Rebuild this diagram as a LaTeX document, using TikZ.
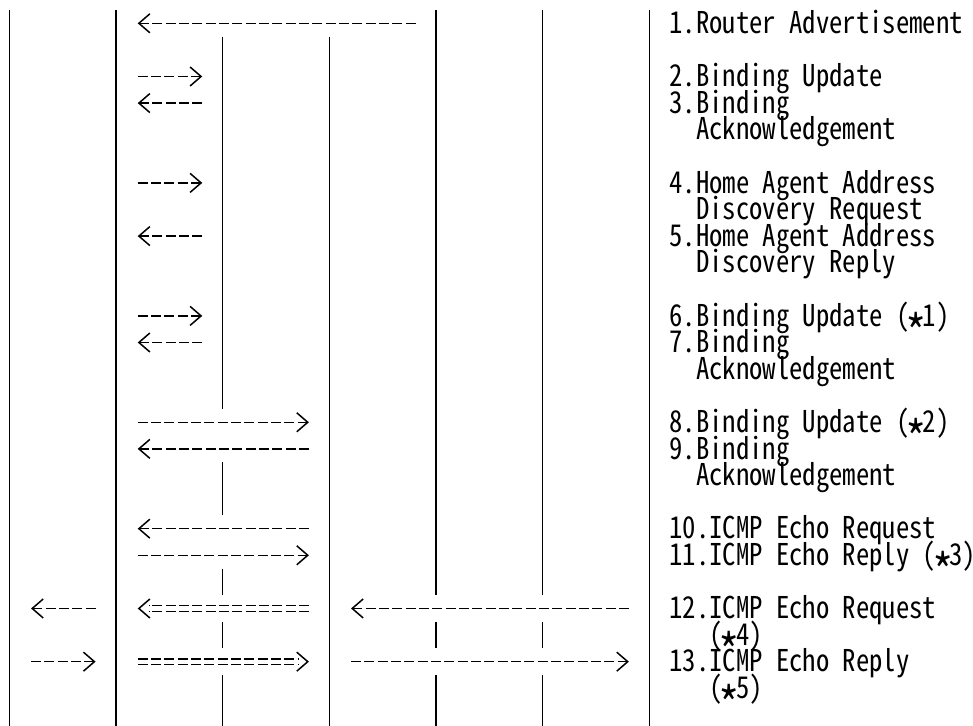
\documentclass[tikz,border=0pt]{standalone}
\usepackage{fontspec}
\usepackage{tikz}
\usetikzlibrary{arrows.meta}
\newfontfamily\gothic[RawFeature=+hwid,FakeStretch=0.889]{Noto Sans CJK JP}
\newcommand\lowstar{\makebox[13.33pt][c]{\raisebox{-0.8em}{\scalebox{1.6}{*}}}}
\newcommand\lblfont{\gothic\fontsize{30}{26.6}\selectfont\setlength\lineskiplimit{-30pt}}
\tikzset{
  life/.style={line width=1.3pt},
  msg/.style={line width=1.5pt, dash pattern=on 10pt off 3.33pt,
    -{Straight Barb[length=11pt,width=19pt]}},
  dblmsg/.style={line width=1.3pt, dash pattern=on 10pt off 3.33pt,
    double, double distance=4.2pt, shorten >=11pt},
  tiponly/.style={msg, dash pattern=on 0pt off 2000pt},
  lbl/.style={anchor=base west, inner sep=0pt, align=left, font=\lblfont}
}

\begin{document}
\begin{tikzpicture}[x=13.333pt, y=-26.6pt]
  \useasboundingbox (0,0) rectangle (72.98,27.29);
  \foreach \c/\a/\b in {0/0/26, 8/0/26, 16/1/14, 16/17/18, 16/21/21, 16/23/23,
      16/25/26, 24/1/26, 32/0/21, 32/23/23, 32/25/26, 40/0/21, 40/23/23,
      40/25/26, 48/0/26} {
    \draw[life] (\c+0.7,\a+0.376) -- (\c+0.7,\b+1.376);
  }
  \foreach \r/\p/\q/\k [count=\i] in {0/31.17/10.33/msg, 2/10.33/15.17/msg,
      3/15.17/10.33/msg, 6/10.33/15.17/msg, 8/15.17/10.33/msg,
      11/10.33/15.17/msg, 12/15.17/10.33/msg, 15/10.33/23.17/msg,
      16/23.17/10.33/msg, 19/23.17/10.33/msg, 20/10.33/23.17/msg,
      22/7.17/2.33/msg, 22/23.17/10.33/dblmsg, 22/47.17/26.33/msg,
      24/2.33/7.17/msg, 24/10.33/23.17/dblmsg, 24/26.33/47.17/msg} {
    \coordinate (s\i) at (\p,\r+0.876);
    \coordinate (e\i) at (\q,\r+0.876);
    \draw[\k] (s\i) -- (e\i);
  }
  \foreach \i in {13,16} \draw[tiponly] (s\i) -- (e\i);
  \node[lbl] (l1) at (50.2,1.26) {1.Router Advertisement};
  \node[lbl] (l2) at (50.2,3.26) {2.Binding Update};
  \node[lbl] (l3) at (50.2,5.26) {3.Binding\\\hphantom{3.}Acknowledgement};
  \node[lbl] (l4) at (50.2,8.26) {4.Home Agent Address\\\hphantom{4.}Discovery Request};
  \node[lbl] (l5) at (50.2,10.26) {5.Home Agent Address\\\hphantom{5.}Discovery Reply};
  \node[lbl] (l6) at (50.2,12.26) {6.Binding Update (\lowstar1)};
  \node[lbl] (l7) at (50.2,14.26) {7.Binding\\\hphantom{7.}Acknowledgement};
  \node[lbl] (l8) at (50.2,16.26) {8.Binding Update (\lowstar2)};
  \node[lbl] (l9) at (50.2,18.26) {9.Binding\\\hphantom{9.}Acknowledgement};
  \node[lbl] (l10) at (50.2,20.26) {10.ICMP Echo Request};
  \node[lbl] (l11) at (50.2,21.26) {11.ICMP Echo Reply (\lowstar3)};
  \node[lbl] (l12) at (50.2,24.26) {12.ICMP Echo Request\\\hphantom{12.}(\lowstar4)};
  \node[lbl] (l13) at (50.2,26.26) {13.ICMP Echo Reply\\\hphantom{13.}(\lowstar5)};
\end{tikzpicture}
\end{document}
